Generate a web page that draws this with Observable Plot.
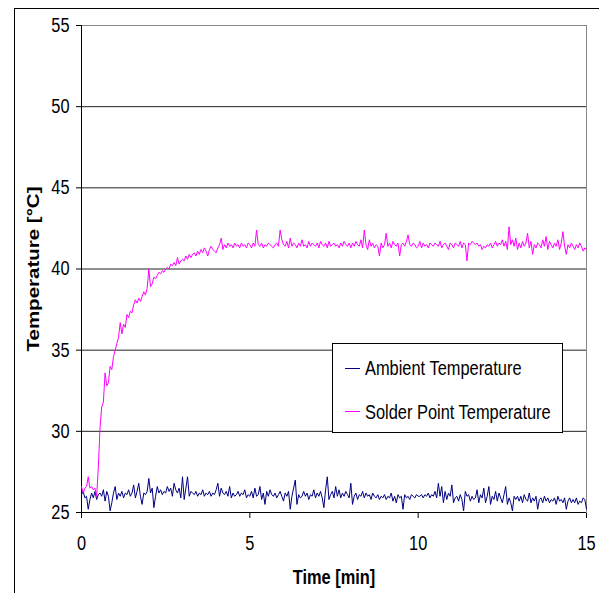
<!DOCTYPE html>
<html>
<head>
<meta charset="utf-8">
<script src="https://cdn.jsdelivr.net/npm/d3@7"></script>
<script src="https://cdn.jsdelivr.net/npm/@observablehq/plot@0.6"></script>
<style>
  html, body { margin: 0; padding: 0; background: #fff; overflow: hidden; }
  #wrap { position: relative; width: 599px; height: 593px; }
  #frame { position: absolute; left: 14px; top: 8px; width: 800px; height: 800px; border-left: 1px solid #000; border-top: 1px solid #000; }
  #chart { position: absolute; left: 0; top: 0; }
</style>
</head>
<body>
<div id="wrap"><div id="frame"></div><div id="chart"></div></div>
<script>
// sampling interval in minutes
const stepMin = 0.05;
const seriesNames = ["Ambient Temperature", "Solder Point Temperature"];
const seriesColors = ["#000080", "#FF00FF"];
const xTicks = [0, 5, 10, 15];
const yTicks = [25, 30, 35, 40, 45, 50, 55];

const ambient = [
  26.1, 26.3, 25.9, 26.0, 25.2, 25.8, 26.2, 25.9, 26.3, 25.8, 26.1, 26.2, 26.0, 26.4, 25.7, 26.3, 26.0, 25.1, 25.6, 26.2,
  26.6, 25.8, 26.2, 26.0, 26.3, 25.9, 26.2, 26.1, 26.4, 26.0, 26.2, 26.7, 25.9, 26.3, 26.8, 26.0, 25.5, 26.2, 26.1, 26.3,
  27.1, 26.2, 26.5, 25.3, 26.0, 26.6, 26.2, 26.4, 26.1, 26.3, 26.2, 26.6, 26.3, 26.5, 26.0, 26.8, 26.4, 26.2, 26.5, 25.9,
  27.2, 25.8, 26.5, 27.2, 26.0, 26.3, 26.2, 26.1, 26.3, 26.0, 26.2, 26.1, 26.4, 26.0, 26.2, 26.1, 26.3, 26.0, 26.2, 26.1,
  26.4, 26.8, 26.0, 26.5, 26.2, 26.1, 26.3, 26.0, 26.6, 25.9, 26.2, 26.0, 26.1, 26.3, 26.0, 26.2, 26.1, 26.4, 25.9, 26.1,
  26.0, 26.3, 25.9, 26.5, 26.0, 26.1, 26.6, 25.8, 26.2, 25.5, 26.3, 26.0, 26.4, 26.1, 26.0, 26.2, 25.9, 26.1, 26.3, 26.0,
  25.7, 26.2, 26.0, 26.3, 25.2, 26.0, 26.5, 27.0, 25.5, 26.1, 25.9, 26.0, 26.3, 26.0, 26.2, 25.8, 26.1, 26.0, 26.4, 25.9,
  26.2, 26.0, 26.3, 25.9, 25.3, 26.4, 27.2, 25.8, 26.1, 26.3, 25.9, 26.6, 26.0, 26.4, 25.9, 26.2, 26.0, 26.3, 26.1, 25.9,
  26.8, 25.5, 26.0, 26.2, 25.8, 26.1, 26.0, 26.3, 25.9, 26.2, 26.0, 26.1, 25.8, 26.2, 26.0, 25.9, 26.1, 25.8, 26.0, 25.9,
  26.1, 25.8, 26.0, 25.9, 26.2, 25.7, 26.0, 25.6, 26.1, 25.9, 26.0, 25.2, 26.1, 25.9, 26.0, 25.8, 26.1, 26.0, 25.9, 26.1,
  26.0, 26.0, 26.1, 25.9, 26.1, 26.0, 26.2, 25.9, 26.1, 26.0, 26.3, 25.9, 26.8, 26.0, 26.6, 25.6, 26.3, 25.8, 26.2, 26.0,
  26.7, 25.6, 25.9, 26.0, 25.7, 26.1, 25.8, 25.1, 26.3, 26.0, 26.1, 25.7, 26.0, 25.8, 25.9, 26.4, 25.6, 26.1, 25.9, 26.5,
  25.6, 26.0, 26.6, 25.5, 26.0, 25.8, 26.3, 25.7, 26.2, 25.9, 25.6, 26.1, 26.6, 25.5, 25.9, 25.6, 25.1, 26.0, 25.8, 26.0,
  25.7, 26.0, 25.6, 26.1, 25.8, 25.7, 26.2, 25.6, 25.9, 25.7, 26.0, 25.2, 25.8, 25.9, 25.6, 26.0, 25.7, 25.9, 25.6, 25.8,
  25.7, 25.9, 25.5, 26.0, 25.7, 25.8, 25.6, 25.9, 25.2, 25.7, 25.9, 25.6, 25.8, 25.6, 25.9, 25.5, 25.7, 25.6, 25.9, 25.8,
  25.2
];

const solder = [
  26.6, 26.2, 26.5, 26.6, 27.2, 26.5, 26.6, 26.4, 26.5, 26.0, 27.8, 30.2, 31.5, 31.8, 33.6, 32.8, 33.0, 34.0, 33.8, 34.6,
  35.0, 35.4, 35.8, 36.7, 36.0, 36.6, 36.4, 37.2, 37.0, 37.4, 37.3, 37.8, 38.1, 37.9, 38.2, 38.0, 38.3, 38.6, 38.4, 38.8,
  40.0, 38.9, 39.1, 39.5, 39.4, 39.6, 39.8, 39.7, 39.9, 39.8, 40.0, 40.1, 40.0, 40.3, 40.2, 40.4, 40.2, 40.7, 40.3, 40.5,
  40.6, 40.5, 40.8, 40.6, 40.9, 40.7, 40.9, 41.0, 40.8, 41.1, 40.9, 41.2, 41.0, 41.3, 41.1, 40.8, 41.2, 41.4, 41.2, 41.1,
  41.0, 41.3, 41.5, 41.9, 41.2, 41.5, 41.3, 41.6, 41.4, 41.5, 41.3, 41.6, 41.4, 41.5, 41.3, 41.6, 41.4, 41.5, 41.3, 41.6,
  41.5, 41.3, 41.6, 41.4, 42.4, 41.5, 41.4, 41.6, 41.3, 41.5, 41.4, 41.6, 41.5, 41.4, 41.3, 41.5, 41.6, 41.4, 42.4, 41.8,
  41.5, 41.4, 41.7, 41.3, 41.9, 41.4, 41.6, 41.5, 41.3, 41.6, 41.4, 41.8, 41.4, 41.5, 41.3, 41.7, 41.4, 41.6, 41.5, 41.4,
  41.6, 41.3, 41.7, 41.5, 41.4, 41.6, 41.3, 41.7, 41.4, 41.5, 41.6, 41.4, 41.5, 41.3, 41.6, 41.4, 41.7, 41.5, 41.4, 41.6,
  41.3, 41.6, 41.4, 41.7, 41.5, 41.4, 41.8, 41.3, 42.4, 41.5, 41.2, 41.8, 41.4, 41.6, 41.3, 41.5, 41.4, 40.8, 41.6, 41.3,
  41.5, 42.2, 41.4, 41.6, 41.3, 41.7, 41.5, 41.4, 41.6, 40.8, 41.5, 41.6, 41.4, 41.7, 42.1, 41.5, 41.4, 41.6, 41.5, 41.3,
  41.4, 41.7, 41.3, 41.6, 41.4, 41.5, 41.3, 41.6, 41.5, 41.4, 41.6, 41.5, 41.4, 41.7, 41.3, 41.5, 41.6, 41.4, 41.2, 41.6,
  41.5, 41.3, 41.6, 41.5, 41.4, 41.7, 41.3, 41.6, 41.5, 40.5, 41.6, 41.5, 41.7, 41.6, 41.5, 41.6, 41.4, 41.5, 41.2, 41.4,
  41.3, 41.5, 41.4, 41.6, 41.3, 41.5, 41.7, 41.4, 41.6, 41.5, 41.8, 41.4, 41.7, 41.2, 42.6, 41.5, 41.8, 41.4, 41.9, 41.2,
  41.6, 41.3, 41.7, 41.4, 41.6, 42.2, 41.3, 41.7, 40.9, 41.5, 41.3, 41.6, 41.5, 41.3, 41.8, 41.4, 42.0, 41.2, 41.7, 41.5,
  41.3, 41.6, 41.4, 41.8, 41.2, 41.6, 42.3, 41.4, 40.9, 41.5, 41.3, 41.6, 41.4, 41.2, 41.5, 41.3, 41.6, 41.4, 41.1, 41.3,
  41.2
];

const time = ambient.map((_, i) => +(i * stepMin).toFixed(2));
const rows = [
  ...ambient.map((v, i) => ({t: time[i], v, s: seriesNames[0]})),
  ...solder.map((v, i) => ({t: time[i], v, s: seriesNames[1]}))
];

const chart = Plot.plot({
  width: 599,
  height: 593,
  marginLeft: 81,
  marginRight: 13,
  marginTop: 25,
  marginBottom: 81,
  style: {fontFamily: "'Liberation Sans', Arial, sans-serif", fontSize: "20px", color: "#000", background: "transparent", overflow: "visible"},
  x: {domain: [0, 15], ticks: xTicks, tickSize: 6, tickPadding: 17, label: "Time [min]", labelAnchor: "center", labelOffset: 71, labelArrow: "none"},
  y: {domain: [25, 55], ticks: yTicks, tickSize: 5, tickPadding: 7, label: "Temperature [°C]", labelAnchor: "center", labelOffset: 54, labelArrow: "none"},
  color: {domain: seriesNames, range: seriesColors},
  marks: [
    Plot.gridY(yTicks, {stroke: "#222", strokeOpacity: 1}),
    Plot.frame({stroke: "#888"}),
    Plot.ruleX([0], {stroke: "#000"}),
    Plot.ruleY([25], {stroke: "#000"}),
    Plot.line(rows, {x: "t", y: "v", z: "s", stroke: "s", strokeWidth: 1})
  ]
});

document.getElementById("chart").append(chart);
const svg = d3.select(chart);

// legend inside the plot area
const lg = svg.append("g").attr("font-size", "20px").attr("text-anchor", "start");
lg.append("rect").attr("x", 332.5).attr("y", 343.5).attr("width", 230).attr("height", 89)
  .attr("fill", "#fff").attr("stroke", "#000");
seriesNames.forEach((name, i) => {
  const ly = [368, 411][i];
  lg.append("line").attr("x1", 345).attr("x2", 360).attr("y1", ly + 0.5).attr("y2", ly + 0.5)
    .attr("stroke", seriesColors[i]).attr("stroke-width", 1);
  lg.append("text").attr("x", 365).attr("y", [375, 419][i]).attr("fill", "#000")
    .attr("text-anchor", "start").text(name);
});

svg.selectAll('g[aria-label="x-axis label"] text, g[aria-label="y-axis label"] text').style("font-weight", "bold");
svg.select('g[aria-label="y-axis label"] text').style("font-size", "16.5px");

svg.selectAll("text").each(function () {
  if (this.closest('g[aria-label="y-axis label"]')) {
    this.setAttribute("textLength", 165);
  } else {
    const L = this.getComputedTextLength();
    this.setAttribute("textLength", (L * 0.82).toFixed(1));
  }
  this.setAttribute("lengthAdjust", "spacingAndGlyphs");
});
</script>
</body>
</html>
